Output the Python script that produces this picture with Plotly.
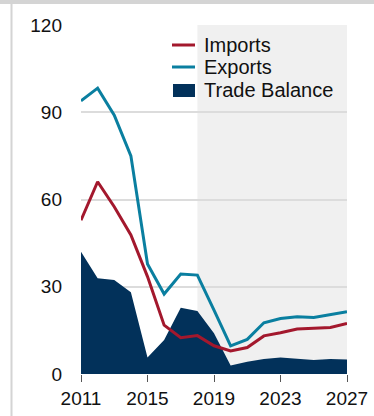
import plotly.graph_objects as go

# Annual series, 2011-2027 (2018 onward is projection)
years = list(range(2011, 2028))
imports = [52.9, 66.1, 57.5, 47.8, 33.5, 16.8, 12.5, 13.2, 9.7, 7.9, 9.1, 13.1, 14.2, 15.5, 15.7, 16.0, 17.4]
exports = [93.9, 98.3, 89.0, 75.0, 37.8, 27.5, 34.4, 34.0, 22.0, 9.7, 11.9, 17.6, 19.1, 19.7, 19.4, 20.4, 21.4]
trade_balance = [42.0, 32.9, 32.3, 28.1, 5.7, 11.7, 22.8, 21.7, 14.0, 2.9, 4.2, 5.2, 5.7, 5.2, 4.8, 5.2, 5.0]
projection_start = 2018
y_ticks = [0, 30, 60, 90, 120]
x_ticks = [2011, 2015, 2019, 2023, 2027]

NAVY = "#02315a"
TEAL = "#0a7fa0"
RED = "#a3182d"
FONT = "Liberation Sans, Arial, sans-serif"

# plot-area geometry in pixels
W, H = 374, 416
L, R, T, B = 81, 27, 25, 42
PW, PH = W - L - R, H - T - B


def px(xp):
    return (xp - L) / PW


def py(yp):
    return (H - B - yp) / PH


fig = go.Figure()
fig.add_trace(go.Scatter(x=years, y=trade_balance, name="Trade Balance", mode="lines",
                         fill="tozeroy", fillcolor=NAVY, line=dict(width=0, color=NAVY)))
fig.add_trace(go.Scatter(x=years, y=exports, name="Exports", mode="lines",
                         line=dict(color=TEAL, width=3)))
fig.add_trace(go.Scatter(x=years, y=imports, name="Imports", mode="lines",
                         line=dict(color=RED, width=3)))

shapes = [
    # projection period background
    dict(type="rect", xref="x", yref="y", x0=projection_start, x1=2027, y0=0, y1=120,
         fillcolor="#f0f0f0", line=dict(width=0), layer="below"),
    # frame: top strip and left rule
    dict(type="rect", xref="paper", yref="paper", x0=px(-5), x1=px(W + 5), y0=py(4), y1=py(-5),
         fillcolor="#d4d4d4", line=dict(width=0)),
    dict(type="line", xref="paper", yref="paper", x0=px(11.5), x1=px(11.5), y0=py(H + 5), y1=py(4),
         line=dict(color="#d4d4d4", width=2)),
]

# legend keys
legend_rows = [("Imports", RED, 45), ("Exports", TEAL, 67), ("Trade Balance", NAVY, 90)]
annotations = []
for label, color, yrow in legend_rows:
    if label == "Trade Balance":
        shapes.append(dict(type="rect", xref="paper", yref="paper",
                           x0=px(173), x1=px(195), y0=py(97), y1=py(84),
                           fillcolor=color, line=dict(width=0)))
    else:
        shapes.append(dict(type="line", xref="paper", yref="paper",
                           x0=px(172), x1=px(195), y0=py(yrow), y1=py(yrow),
                           line=dict(color=color, width=3)))
    annotations.append(dict(text=label, xref="paper", yref="paper", x=px(202), y=py(yrow),
                            xanchor="left", yanchor="middle", showarrow=False,
                            font=dict(family=FONT, size=20, color="#111111")))

fig.update_layout(
    width=W, height=H,
    margin=dict(l=L, r=R, t=T, b=B),
    paper_bgcolor="white", plot_bgcolor="white",
    font=dict(family=FONT, size=19, color="#111111"),
    shapes=shapes,
    annotations=annotations,
    showlegend=False,
    xaxis=dict(range=[2011, 2027], tickvals=x_ticks, showgrid=False, zeroline=False,
               ticks="outside", ticklen=7, tickcolor="#555555", tickwidth=1,
               showline=False, automargin=False),
    yaxis=dict(range=[0, 120], tickvals=y_ticks, showgrid=True, gridcolor="#dcdcdc",
               gridwidth=1.5, zeroline=False, ticks="", ticklabelstandoff=18,
               automargin=False),
)

fig.write_html("out.html")
